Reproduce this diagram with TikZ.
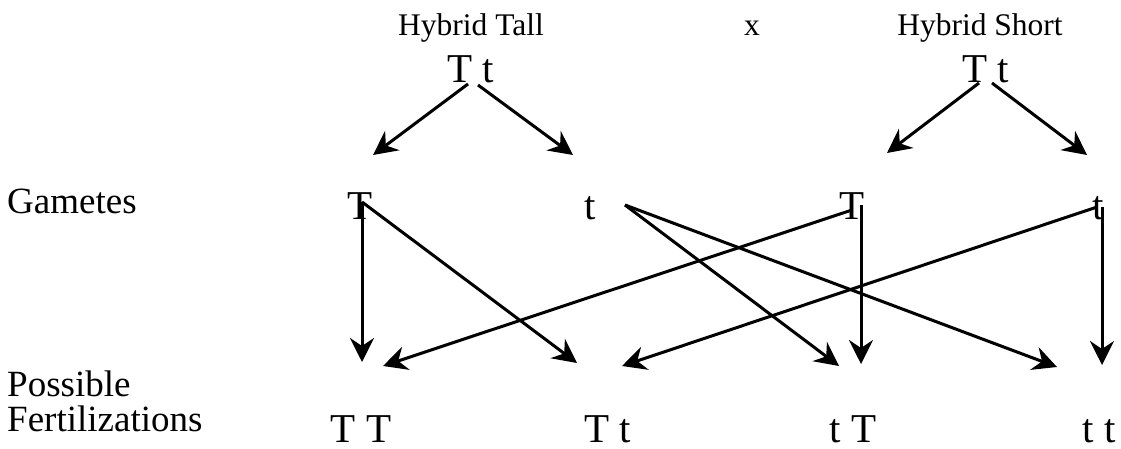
\documentclass[tikz,border=0pt]{standalone}
\usepackage{fontspec}
\setmainfont{Liberation Serif}
\usetikzlibrary{arrows.meta}
\begin{document}
\begin{tikzpicture}[x=1pt,y=-1pt,
  lab/.style={inner sep=0pt, anchor=base west, font=\fontsize{37}{40}\selectfont},
  gene/.style={inner sep=0pt, anchor=base, font=\fontsize{41}{44}\selectfont},
  parent/.style={inner sep=0pt, anchor=base, font=\fontsize{31.5}{34}\selectfont},
  arr/.style={line width=3pt, -{Stealth[length=24pt,width=24pt,inset=8pt]}}]
\useasboundingbox (0,0) rectangle (1121,449);
% parents
\node[parent] (hT) at (471,36) {Hybrid Tall};
\node[parent] (cross) at (752,36) {x};
\node[parent] (hS) at (980,36) {Hybrid Short};
\node[gene] (pT) at (471,83) {T t};
\node[gene] (pS) at (986,83) {T t};
% row labels
\node[lab] (lg) at (7,214) {Gametes};
\node[lab] (lp) at (7,396) {Possible};
\node[lab] (lf) at (7,431) {Fertilizations};
% gametes
\node[gene] (g1) at (360,219) {T};
\node[gene] (g2) at (590,219) {t};
\node[gene] (g3) at (852,219) {T};
\node[gene] (g4) at (1098,219) {t};
% fertilizations
\node[gene] (f1) at (361,442) {T T};
\node[gene] (f2) at (608,442) {T t};
\node[gene] (f3) at (853,442) {t T};
\node[gene] (f4) at (1099,442) {t t};
% connector ends
\coordinate (pTa) at (468,84);
\coordinate (pTb) at (478,85);
\coordinate (pSa) at (979,83);
\coordinate (pSb) at (992,83);
\coordinate (e1) at (373,155);
\coordinate (e2) at (573,155);
\coordinate (e3) at (887,153);
\coordinate (e4) at (1087,155);
\coordinate (s1) at (362,202);
\coordinate (s2) at (625,205);
\coordinate (s3a) at (852,210);
\coordinate (s3b) at (861,205);
\coordinate (s4a) at (1097,207);
\coordinate (s4b) at (1102,207);
\coordinate (t1a) at (362,362);
\coordinate (t1b) at (383,366);
\coordinate (t2a) at (577,363);
\coordinate (t2b) at (622,366);
\coordinate (t3a) at (839,366);
\coordinate (t3b) at (861,364);
\coordinate (t4a) at (1057,367);
\coordinate (t4b) at (1102,365);
% parent to gametes
\draw[arr] (pTa) -- (e1);
\draw[arr] (pTb) -- (e2);
\draw[arr] (pSa) -- (e3);
\draw[arr] (pSb) -- (e4);
% gametes to fertilizations
\draw[arr] (s1) -- (t1a);
\draw[arr] (s1) -- (t2a);
\draw[arr] (s2) -- (t3a);
\draw[arr] (s2) -- (t4a);
\draw[arr] (s3b) -- (t3b);
\draw[arr] (s3a) -- (t1b);
\draw[arr] (s4a) -- (t2b);
\draw[arr] (s4b) -- (t4b);
\end{tikzpicture}
\end{document}
